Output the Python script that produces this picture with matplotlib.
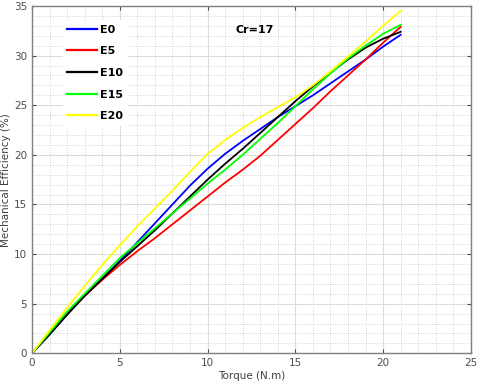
import matplotlib
matplotlib.use("Agg")
import matplotlib.pyplot as plt
from matplotlib.ticker import MultipleLocator

torque = list(range(0, 22))

eff_e0 = [0, 1.9, 3.9, 5.8, 7.5, 9.3, 11.2, 13.1, 15.0, 16.9, 18.6, 20.1,
          21.4, 22.6, 23.8, 24.9, 26.0, 27.2, 28.4, 29.6, 30.9, 32.1]
eff_e5 = [0, 2.1, 4.0, 5.8, 7.4, 8.9, 10.3, 11.6, 13.0, 14.4, 15.8, 17.2,
          18.5, 19.9, 21.5, 23.1, 24.7, 26.4, 28.0, 29.6, 31.3, 32.9]
eff_e10 = [0, 1.9, 3.9, 5.8, 7.5, 9.2, 10.8, 12.4, 14.1, 15.8, 17.5, 19.1,
           20.6, 22.2, 23.8, 25.4, 26.9, 28.3, 29.6, 30.8, 31.7, 32.4]
eff_e15 = [0, 2.1, 4.2, 6.0, 7.8, 9.6, 11.1, 12.6, 14.1, 15.6, 17.1, 18.5,
           20.0, 21.6, 23.2, 24.9, 26.6, 28.2, 29.7, 31.0, 32.2, 33.1]
eff_e20 = [0, 2.3, 4.6, 6.8, 8.9, 10.9, 12.8, 14.6, 16.4, 18.3, 20.1, 21.5,
           22.7, 23.8, 24.8, 25.8, 27.0, 28.4, 29.9, 31.4, 33.0, 34.5]

labels = ["E0", "E5", "E10", "E15", "E20"]
colors = ["#0000ff", "#ff0000", "#000000", "#00ff00", "#ffff00"]
AX_GRAY = "#4d4d4d"


def _main():
    fig = plt.figure(figsize=(4.8, 3.86), dpi=100)
    ax = fig.add_axes([0.0667, 0.0847, 0.9143, 0.8998])

    series = [eff_e0, eff_e5, eff_e10, eff_e15, eff_e20]
    for values, lab, col in zip(series, labels, colors):
        ax.plot(torque, values, color=col, lw=1.3, label=lab)

    ax.set_xlim(0, 25)
    ax.set_ylim(0, 35)
    ax.xaxis.set_major_locator(MultipleLocator(5))
    ax.yaxis.set_major_locator(MultipleLocator(5))
    ax.xaxis.set_minor_locator(MultipleLocator(1))
    ax.yaxis.set_minor_locator(MultipleLocator(1))
    ax.grid(which="major", color="#dcdcdc", lw=0.8, ls="-")
    ax.grid(which="minor", color="#c8c8c8", lw=0.6, ls=":")
    ax.set_axisbelow(True)

    ax.tick_params(which="both", direction="in", top=True, right=True,
                   colors=AX_GRAY, labelsize=7.5)
    ax.tick_params(which="major", length=3)
    ax.tick_params(which="minor", length=0)
    for sp in ax.spines.values():
        sp.set_color("#808080")
        sp.set_linewidth(1.0)

    ax.set_xlabel("Torque (N.m)", fontsize=7.5, color="#404040", labelpad=2)
    ax.set_ylabel("Mechanical Efficiency (%)", fontsize=7.5, color="#404040",
                  labelpad=2)

    leg = ax.legend(loc="upper left", bbox_to_anchor=(0.058, 0.975),
                    frameon=True, facecolor="white", edgecolor="white",
                    framealpha=1, fancybox=False, handlelength=2.7,
                    handletextpad=0.25, labelspacing=1.05,
                    prop={"weight": "bold", "size": 8})
    leg.get_frame().set_linewidth(0)
    for line in leg.get_lines():
        line.set_linewidth(1.6)

    ax.text(11.6, 32.6, "Cr=17", fontsize=8, fontweight="bold",
            ha="left", va="center")

    fig.savefig("out.png", dpi=100)


if __name__ == "__main__":
    _main()
